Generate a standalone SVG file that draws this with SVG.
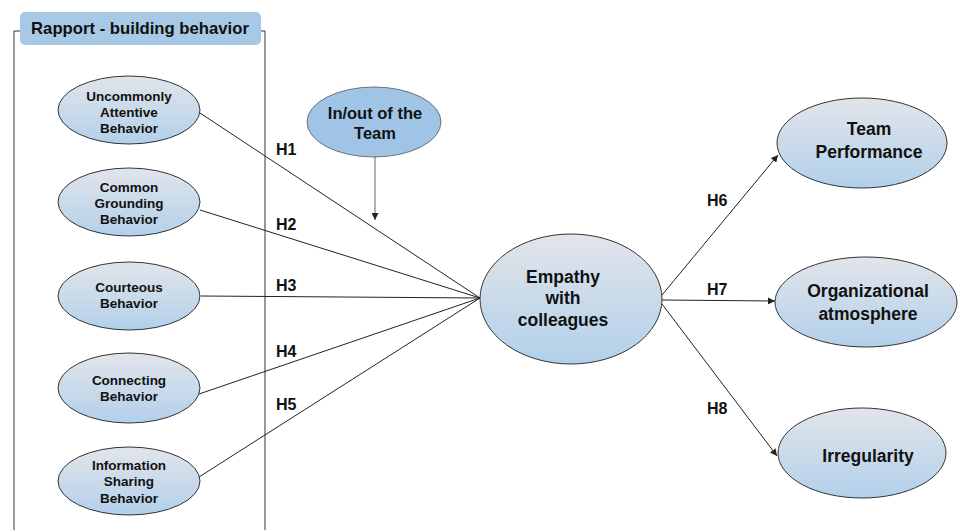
<svg xmlns="http://www.w3.org/2000/svg" width="959" height="530" viewBox="0 0 959 530">
<style>
text{font-family:"Liberation Sans",Arial,sans-serif;font-weight:bold;fill:#111;text-anchor:middle}
.n{fill:url(#g);stroke:#333;stroke-width:1}
.s{font-size:13.5px}
.m{font-size:17.5px}
.l{font-size:16px;text-anchor:start}
.c{stroke:#222;stroke-width:1;fill:none}
</style>
<defs>
<linearGradient id="g" x1="0" y1="0" x2="0" y2="1">
<stop offset="0" stop-color="#e2e5ea"/>
<stop offset="1" stop-color="#b2d0ea"/>
</linearGradient>
<marker id="a" viewBox="0 0 10 10" refX="10" refY="5" markerWidth="7" markerHeight="7" orient="auto" markerUnits="userSpaceOnUse">
<path d="M0,0 L10,5 L0,10 z" fill="#222"/>
</marker>
</defs>
<rect width="959" height="530" fill="#fff"/>
<g id="frame">
<path d="M20,31 H14 V530 M261,31 H265 V530" fill="none" stroke="#333" stroke-width="1"/>
<rect x="20" y="12" width="241" height="33" rx="5" fill="#a7c9e6"/>
<text x="140" y="34" style="font-size:16.7px">Rapport - building behavior</text>
</g>
<g id="connectors">
<line class="c" x1="200" y1="113" x2="480" y2="298"/>
<line class="c" x1="200" y1="210" x2="480" y2="298"/>
<line class="c" x1="201" y1="296" x2="480" y2="298"/>
<line class="c" x1="199" y1="394" x2="480" y2="298"/>
<line class="c" x1="199" y1="477" x2="480" y2="298"/>
<line x1="375" y1="157" x2="375" y2="220" stroke="#666" stroke-width="1" marker-end="url(#a)"/>
<line class="c" x1="662" y1="295" x2="778" y2="155" marker-end="url(#a)"/>
<line class="c" x1="662" y1="300" x2="775" y2="301" marker-end="url(#a)"/>
<line class="c" x1="662" y1="304" x2="777" y2="456" marker-end="url(#a)"/>
<text class="l" x="276" y="155">H1</text>
<text class="l" x="276" y="230">H2</text>
<text class="l" x="276" y="291">H3</text>
<text class="l" x="276" y="357">H4</text>
<text class="l" x="276" y="410">H5</text>
<text class="l" x="707" y="206">H6</text>
<text class="l" x="707" y="295">H7</text>
<text class="l" x="707" y="414">H8</text>
</g>
<g id="uncommonly">
<ellipse class="n" cx="129" cy="110" rx="71" ry="34"/>
<text class="s" x="129" y="101">Uncommonly</text>
<text class="s" x="129" y="117">Attentive</text>
<text class="s" x="129" y="133">Behavior</text>
</g>
<g id="common">
<ellipse class="n" cx="129" cy="202" rx="71" ry="34"/>
<text class="s" x="129" y="192">Common</text>
<text class="s" x="129" y="208">Grounding</text>
<text class="s" x="129" y="224">Behavior</text>
</g>
<g id="courteous">
<ellipse class="n" cx="129" cy="296" rx="71" ry="34"/>
<text class="s" x="129" y="292">Courteous</text>
<text class="s" x="129" y="308">Behavior</text>
</g>
<g id="connecting">
<ellipse class="n" cx="129" cy="388" rx="71" ry="35"/>
<text class="s" x="129" y="385">Connecting</text>
<text class="s" x="129" y="401">Behavior</text>
</g>
<g id="information">
<ellipse class="n" cx="129" cy="481" rx="71" ry="34"/>
<text class="s" x="129" y="470">Information</text>
<text class="s" x="129" y="486">Sharing</text>
<text class="s" x="129" y="503">Behavior</text>
</g>
<g id="inout">
<ellipse cx="374" cy="122" rx="67" ry="35" fill="#a0c4e6" stroke="#555" stroke-width="0.8"/>
<text x="375" y="119" style="font-size:16.5px">In/out of the</text>
<text x="375" y="139" style="font-size:16.5px">Team</text>
</g>
<g id="empathy">
<ellipse class="n" cx="571" cy="299" rx="91" ry="65"/>
<text x="563" y="283" style="font-size:17.5px">Empathy</text>
<text x="563" y="304" style="font-size:17.5px">with</text>
<text x="563" y="326" style="font-size:17.5px">colleagues</text>
</g>
<g id="team">
<ellipse class="n" cx="862" cy="143" rx="85" ry="45"/>
<text class="m" x="869" y="135">Team</text>
<text class="m" x="869" y="158">Performance</text>
</g>
<g id="organizational">
<ellipse class="n" cx="866" cy="302" rx="91" ry="45"/>
<text class="m" x="868" y="297">Organizational</text>
<text class="m" x="868" y="320">atmosphere</text>
</g>
<g id="irregularity">
<ellipse class="n" cx="862" cy="453" rx="84" ry="45"/>
<text class="m" x="868" y="462">Irregularity</text>
</g>
</svg>
